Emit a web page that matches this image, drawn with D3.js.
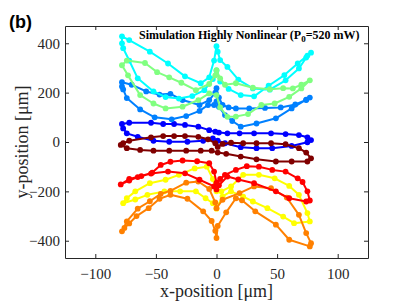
<!DOCTYPE html>
<html>
<head>
<meta charset="utf-8">
<script src="https://cdn.jsdelivr.net/npm/d3@7"></script>
<style>
  body { margin: 0; background: #fff; }
  svg { display: block; }
  .tick text { font-family: "Liberation Serif", "Times New Roman", serif; font-size: 15px; fill: #262626; }
</style>
</head>
<body>
<div class="container"></div>
<script>
// trajectories, one closed loop per power step ([x, y] in µm)
const blueLoop = [[-78,73],[-72,78],[-54,78],[-44,73],[-35,73],[-26,69],[-15,62],[-6,48],[-1,42],[2,38],[9,35],[19,35],[31,35],[45,35],[57,32],[68,28],[75,19],[78,8],[75,-1],[62,-16],[46,-25],[33,-25],[20,-21],[7,-5],[1,5],[-3,15],[-11,5],[-24,1],[-39,1],[-52,5],[-65,21],[-74,35],[-77,55]];
const azureLoop = [[-78,242],[-70,232],[-58,205],[-47,192],[-38,195],[-28,170],[-14,150],[-6,170],[-1,200],[0,218],[2,180],[5,150],[10,140],[16,136],[27,136],[40,138],[53,140],[65,152],[74,170],[77,180],[74,172],[62,136],[49,96],[33,75],[20,62],[13,85],[7,109],[2,143],[0,165],[-2,150],[-7,150],[-14,126],[-25,105],[-37,92],[-51,100],[-63,132],[-74,178],[-77,213],[-78,225]];
const cyanLoop = [[-78,428],[-72,413],[-55,366],[-40,318],[-26,266],[-13,238],[-6,262],[-2,330],[0,388],[1,366],[3,332],[9,304],[18,253],[30,217],[44,212],[57,250],[68,298],[74,342],[78,362],[75,350],[67,318],[56,271],[43,228],[31,185],[20,190],[10,215],[3,245],[0,290],[-3,255],[-10,210],[-20,186],[-31,176],[-42,182],[-52,205],[-65,258],[-72,330],[-77,380],[-78,400]];
const greenLoop = [[-78,311],[-74,330],[-59,320],[-49,283],[-39,262],[-29,240],[-17,210],[-6,235],[-1,270],[0,291],[3,258],[7,232],[16,238],[30,220],[44,214],[55,218],[63,217],[70,232],[77,250],[70,217],[60,183],[48,156],[37,150],[26,113],[16,103],[9,102],[3,140],[0,190],[-6,197],[-15,170],[-28,143],[-42,136],[-52,156],[-63,190],[-73,270]];
const yellowLoop = [[-77,-248],[-74,-228],[-67,-200],[-55,-167],[-42,-153],[-31,-133],[-18,-107],[-8,-100],[-3,-150],[0,-200],[4,-200],[12,-180],[22,-133],[35,-133],[48,-147],[60,-178],[68,-214],[75,-288],[77,-322],[64,-329],[55,-302],[42,-268],[30,-241],[22,-221],[12,-200],[5,-220],[0,-270],[-3,-248],[-9,-228],[-17,-200],[-30,-200],[-43,-200],[-57,-214],[-67,-233]];
const orangeLoop = [[-78,-362],[-74,-322],[-65,-270],[-55,-240],[-46,-210],[-38,-198],[-25,-165],[-15,-160],[-6,-190],[-1,-245],[0,-268],[5,-234],[19,-207],[31,-180],[45,-187],[58,-225],[68,-295],[74,-369],[78,-410],[77,-423],[60,-396],[49,-335],[32,-281],[21,-236],[16,-228],[8,-285],[1,-340],[0,-389],[-1,-360],[-4,-320],[-11,-281],[-24,-230],[-38,-214],[-47,-230],[-56,-268],[-66,-300],[-72,-330],[-76,-348]];
const redLoop = [[-79,-172],[-72,-150],[-62,-138],[-53,-124],[-46,-93],[-38,-80],[-28,-75],[-16,-78],[-6,-86],[-2,-120],[0,-165],[3,-150],[7,-133],[16,-113],[25,-98],[35,-100],[46,-113],[57,-120],[67,-147],[71,-162],[75,-200],[77,-237],[74,-241],[60,-228],[49,-200],[31,-167],[18,-152],[9,-140],[2,-175],[0,-192],[-2,-180],[-14,-153],[-26,-127],[-40,-120],[-54,-128],[-65,-142],[-72,-156]];
const darkRedLoop = [[-77,-5],[-72,5],[-54,19],[-44,24],[-35,24],[-26,24],[-15,21],[-7,11],[-1,-5],[1,-20],[5,-8],[12,-3],[22,-5],[33,-5],[45,-5],[57,-9],[68,-25],[74,-43],[78,-66],[75,-79],[62,-79],[49,-79],[33,-70],[20,-59],[8,-48],[1,-43],[-4,-35],[-13,-35],[-25,-35],[-39,-35],[-52,-35],[-63,-32],[-74,-25],[-79,-12]];

const loops = [blueLoop, azureLoop, cyanLoop, greenLoop, yellowLoop, orangeLoop, redLoop, darkRedLoop];
const loopColors = ["#0000ff", "#0080ff", "#00ffff", "#80ff80", "#ffff00", "#ff8000", "#ff0000", "#800000"];

const xTicks = [-100, -50, 0, 50, 100];
const yTicks = [-400, -200, 0, 200, 400];

const WIDTH = 407, HEIGHT = 304;
const MARGIN = { top: 26, right: 39, bottom: 46, left: 65 };

const xScale = d3.scaleLinear().domain([-125, 125]).range([MARGIN.left, WIDTH - MARGIN.right]);
const yScale = d3.scaleLinear().domain([-470, 470]).range([HEIGHT - MARGIN.bottom, MARGIN.top]);

const svg = d3.select(".container").append("svg")
  .attr("width", WIDTH).attr("height", HEIGHT)
  .attr("viewBox", [0, 0, WIDTH, HEIGHT]);

// data
const line = d3.line().x((d) => xScale(d[0])).y((d) => yScale(d[1])).curve(d3.curveLinearClosed);
const groups = svg.append("g").selectAll("g").data(loops).join("g")
  .attr("fill", (d, i) => loopColors[i])
  .attr("stroke", (d, i) => loopColors[i]);
groups.append("path").attr("d", line).attr("fill", "none").attr("stroke-width", 2).attr("stroke-linejoin", "round");
groups.selectAll("circle").data((d) => d).join("circle")
  .attr("cx", (d) => xScale(d[0])).attr("cy", (d) => yScale(d[1]))
  .attr("r", 2.9).attr("stroke", "none");

// axes, box style with inward ticks
const axisColor = "#262626";
const styleAxis = (g) => {
  g.select(".domain").attr("stroke", axisColor);
  g.selectAll(".tick line").attr("stroke", axisColor);
};
svg.append("g").attr("transform", `translate(0,${HEIGHT - MARGIN.bottom})`)
  .call(d3.axisBottom(xScale).tickValues(xTicks).tickSize(-4).tickSizeOuter(0).tickPadding(10))
  .call(styleAxis);
svg.append("g").attr("transform", `translate(0,${MARGIN.top})`)
  .call(d3.axisTop(xScale).tickValues(xTicks).tickSize(-4).tickSizeOuter(0).tickFormat(""))
  .call(styleAxis);
svg.append("g").attr("transform", `translate(${MARGIN.left},0)`)
  .call(d3.axisLeft(yScale).tickValues(yTicks).tickSize(-4).tickSizeOuter(0).tickPadding(5))
  .call(styleAxis);
svg.append("g").attr("transform", `translate(${WIDTH - MARGIN.right},0)`)
  .call(d3.axisRight(yScale).tickValues(yTicks).tickSize(-4).tickSizeOuter(0).tickFormat(""))
  .call(styleAxis);

// labels
svg.append("text")
  .attr("x", xScale(0)).attr("y", 297)
  .attr("text-anchor", "middle")
  .attr("font-family", "Liberation Serif, serif").attr("font-size", 18).attr("fill", axisColor)
  .text("x-position [μm]");
svg.append("text")
  .attr("transform", `translate(28,${yScale(0)}) rotate(-90)`)
  .attr("text-anchor", "middle")
  .attr("font-family", "Liberation Serif, serif").attr("font-size", 18).attr("fill", axisColor)
  .text("y-position [μm]");

const title = svg.append("text")
  .attr("x", 139).attr("y", 39)
  .attr("font-family", "Liberation Serif, serif").attr("font-size", 12).attr("font-weight", "bold").attr("fill", "#000");
title.append("tspan").text("Simulation Highly Nonlinear (P");
title.append("tspan").attr("dy", 3).attr("font-size", 9).text("0");
title.append("tspan").attr("dy", -3).text("=520 mW)");

svg.append("text")
  .attr("x", 9).attr("y", 28)
  .attr("font-family", "Liberation Sans, Arial, sans-serif").attr("font-size", 18).attr("font-weight", "bold")
  .text("(b)");
</script>
</body>
</html>
